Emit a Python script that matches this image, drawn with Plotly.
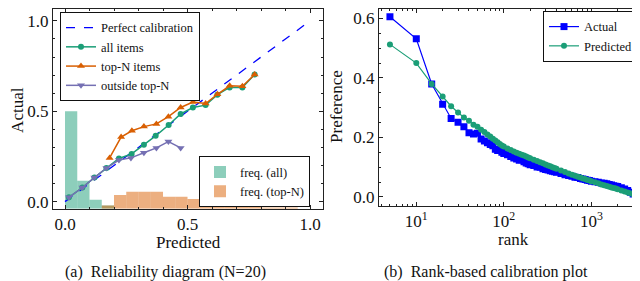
import plotly.graph_objects as go

# ---------------- Data: (a) reliability diagram ----------------
perfect_x = [0.0, 1.0]
perfect_y = [0.0, 1.0]

all_pred = [0.016, 0.071, 0.120, 0.169, 0.220, 0.272, 0.322, 0.370, 0.423, 0.472,
            0.522, 0.574, 0.622, 0.672, 0.724, 0.774]
all_act = [0.024, 0.078, 0.133, 0.186, 0.239, 0.264, 0.315, 0.364, 0.424, 0.485,
           0.521, 0.534, 0.592, 0.632, 0.632, 0.703]

top_pred = [0.182, 0.229, 0.273, 0.322, 0.373, 0.422, 0.472, 0.522, 0.574, 0.622,
            0.672, 0.724, 0.774]
top_act = [0.242, 0.357, 0.392, 0.415, 0.430, 0.470, 0.521, 0.551, 0.543, 0.594,
           0.641, 0.638, 0.703]

out_pred = [0.016, 0.071, 0.120, 0.169, 0.220, 0.269, 0.322, 0.373, 0.422, 0.472]
out_act = [0.024, 0.078, 0.133, 0.186, 0.230, 0.242, 0.270, 0.297, 0.332, 0.297]

bin_centers = [0.025, 0.075, 0.125, 0.175, 0.225, 0.275, 0.325, 0.375, 0.425, 0.475,
               0.525, 0.575, 0.625, 0.675, 0.725, 0.775, 0.825, 0.875, 0.925]
freq_all = [0.54, 0.155, 0.05, 0.018, 0, 0, 0, 0, 0, 0,
            0, 0, 0, 0, 0, 0, 0, 0, 0]
freq_top = [0, 0, 0, 0.018, 0.077, 0.095, 0.095, 0.095, 0.067, 0.067,
            0.055, 0.036, 0.036, 0.018, 0.018, 0.018, 0.007, 0.007, 0.007]
hist_base = -0.04

# ---------------- Data: (b) rank-based calibration ----------------
ranks = [5, 10, 15, 20, 25, 30, 35, 40, 45, 50, 55, 60, 65, 70, 75, 80, 85, 90, 95, 100,
         110, 120, 130, 140, 150, 160, 170, 180, 190, 200,
         220, 240, 260, 280, 300, 320, 340, 360, 380, 400,
         450, 500, 550, 600, 650, 700, 750, 800, 850, 900, 950, 1000,
         1100, 1200, 1300, 1400, 1500, 1600, 1700, 1800, 1900, 2000,
         2200, 2400, 2600, 2800, 3000, 3200]
actual = [0.606, 0.532, 0.380, 0.312, 0.264, 0.251, 0.236, 0.216, 0.212, 0.214,
          0.195, 0.188, 0.182, 0.176, 0.172, 0.160, 0.156, 0.158, 0.150, 0.146,
          0.142, 0.136, 0.131, 0.128, 0.123, 0.125, 0.118, 0.114, 0.112, 0.108,
          0.106, 0.101, 0.100, 0.095, 0.092, 0.091, 0.088, 0.086, 0.085, 0.083,
          0.079, 0.075, 0.072, 0.070, 0.066, 0.065, 0.062, 0.060, 0.059, 0.056, 0.055, 0.053,
          0.051, 0.049, 0.047, 0.046, 0.044, 0.042, 0.040, 0.038, 0.036, 0.035,
          0.031, 0.027, 0.022, 0.016, 0.010, 0.004]
predicted = [0.513, 0.450, 0.380, 0.338, 0.305, 0.284, 0.267, 0.256, 0.243, 0.236,
             0.226, 0.218, 0.210, 0.203, 0.196, 0.190, 0.184, 0.178, 0.173, 0.170,
             0.163, 0.158, 0.153, 0.149, 0.145, 0.142, 0.139, 0.136, 0.133, 0.130,
             0.125, 0.121, 0.117, 0.113, 0.109, 0.106, 0.103, 0.100, 0.097, 0.095,
             0.089, 0.084, 0.079, 0.075, 0.071, 0.068, 0.065, 0.062, 0.060, 0.057, 0.055, 0.053,
             0.049, 0.046, 0.042, 0.039, 0.037, 0.034, 0.032, 0.030, 0.028, 0.026,
             0.022, 0.018, 0.015, 0.012, 0.009, 0.005]

FONT = "Liberation Serif, Times New Roman, serif"
GREEN = "#1b9e77"
ORANGE = "#d95f02"
PURPLE = "#7570b3"
BLUE = "#0000ff"
LEG_FS = 12.5

fig = go.Figure()

# histograms (left)
fig.add_trace(go.Bar(x=bin_centers, y=freq_all, base=hist_base, width=0.05,
                     marker=dict(color="rgba(27,158,119,0.5)", line=dict(width=0)),
                     name="freq. (all)", xaxis="x", yaxis="y", legend="legend2"))
fig.add_trace(go.Bar(x=bin_centers, y=freq_top, base=hist_base, width=0.05,
                     marker=dict(color="rgba(217,95,2,0.5)", line=dict(width=0)),
                     name="freq. (top-N)", xaxis="x", yaxis="y", legend="legend2"))

fig.add_trace(go.Scatter(x=perfect_x, y=perfect_y, mode="lines",
                         line=dict(color=BLUE, dash="dash", width=1.3),
                         name="Perfect calibration", xaxis="x", yaxis="y", legend="legend"))
fig.add_trace(go.Scatter(x=all_pred, y=all_act, mode="lines+markers",
                         line=dict(color=GREEN, width=1.5),
                         marker=dict(symbol="circle", size=6, color=GREEN),
                         name="all items", xaxis="x", yaxis="y", legend="legend"))
fig.add_trace(go.Scatter(x=top_pred, y=top_act, mode="lines+markers",
                         line=dict(color=ORANGE, width=1.5),
                         marker=dict(symbol="triangle-up", size=7, color=ORANGE),
                         name="top-N items", xaxis="x", yaxis="y", legend="legend"))
fig.add_trace(go.Scatter(x=out_pred, y=out_act, mode="lines+markers",
                         line=dict(color=PURPLE, width=1.5),
                         marker=dict(symbol="triangle-down", size=7, color=PURPLE),
                         name="outside top-N", xaxis="x", yaxis="y", legend="legend"))

# right panel
fig.add_trace(go.Scatter(x=ranks, y=actual, mode="lines+markers",
                         line=dict(color=BLUE, width=1.2),
                         marker=dict(symbol="square", size=7, color=BLUE),
                         name="Actual", xaxis="x2", yaxis="y2", legend="legend3"))
fig.add_trace(go.Scatter(x=ranks, y=predicted, mode="lines+markers",
                         line=dict(color=GREEN, width=1.2),
                         marker=dict(symbol="circle", size=6, color=GREEN),
                         name="Predicted", xaxis="x2", yaxis="y2", legend="legend3"))

axis_common = dict(showline=True, linecolor="#222", linewidth=1, mirror="ticks",
                   ticks="inside", ticklen=4, tickcolor="#222", showgrid=False,
                   zeroline=False, tickfont=dict(family=FONT, size=17, color="#111"))

legend_common = dict(bgcolor="white", bordercolor="#111", borderwidth=1,
                     font=dict(family=FONT, size=LEG_FS, color="#111"),
                     tracegroupgap=0, itemwidth=30)

ann_common = dict(xref="paper", yref="paper", showarrow=False,
                  xanchor="center", yanchor="middle")

fig.update_layout(
    width=640, height=281,
    margin=dict(l=0, r=0, t=0, b=0),
    paper_bgcolor="white", plot_bgcolor="white",
    font=dict(family=FONT, size=17, color="#111"),
    barmode="overlay",
    xaxis=dict(domain=[45/640, 315/640], range=[-0.049, 1.053], anchor="y",
               tickvals=[0, 0.5, 1.0], ticktext=["0.0", "0.5", "1.0"],
               minor=dict(ticks="inside", ticklen=2, dtick=0.1, tickcolor="#222"),
               **axis_common),
    yaxis=dict(domain=[(281-203)/281, (281-1)/281], range=[-0.04, 1.066], anchor="x",
               tickvals=[0, 0.5, 1.0], ticktext=["0.0", "0.5", "1.0"],
               minor=dict(ticks="inside", ticklen=2, dtick=0.1, tickcolor="#222"),
               **axis_common),
    xaxis2=dict(domain=[371/640, 635/640], type="log", range=[0.574, 3.59], anchor="y2",
                tickvals=[10, 100, 1000],
                ticktext=["10<sup>1</sup>", "10<sup>2</sup>", "10<sup>3</sup>"],
                minor=dict(ticks="inside", ticklen=2, tickcolor="#222",
                           tickvals=[4, 5, 6, 7, 8, 9, 20, 30, 40, 50, 60, 70, 80, 90,
                                     200, 300, 400, 500, 600, 700, 800, 900, 2000, 3000]),
                **axis_common),
    yaxis2=dict(domain=[(281-200)/281, (281-1)/281], range=[-0.03, 0.632], anchor="x2",
                tickvals=[0, 0.2, 0.4, 0.6], ticktext=["0.0", "0.2", "0.4", "0.6"],
                minor=dict(ticks="inside", ticklen=2, dtick=0.05, tickcolor="#222"),
                **axis_common),
    legend=dict(x=52/640, y=1-4/281, xanchor="left", yanchor="top", **legend_common),
    legend2=dict(x=191/640, y=1-150/281, xanchor="left", yanchor="top", **legend_common),
    legend3=dict(x=535/640, y=1-3/281, xanchor="left", yanchor="top", **legend_common),
    annotations=[
        dict(text="Predicted", x=180/640, y=1-237/281, font=dict(family=FONT, size=17), **ann_common),
        dict(text="Actual", x=10/640, y=1-103/281, textangle=-90,
             font=dict(family=FONT, size=17), **ann_common),
        dict(text="rank", x=505/640, y=1-234/281, font=dict(family=FONT, size=17), **ann_common),
        dict(text="Preference", x=329/640, y=1-100/281, textangle=-90,
             font=dict(family=FONT, size=17), **ann_common),
        dict(text="(a)  Reliability diagram (N=20)", x=157/640, y=1-267/281,
             font=dict(family=FONT, size=16), **ann_common),
        dict(text="(b)  Rank-based calibration plot", x=478/640, y=1-267/281,
             font=dict(family=FONT, size=16), **ann_common),
    ],
)

fig.write_html("out.html")
